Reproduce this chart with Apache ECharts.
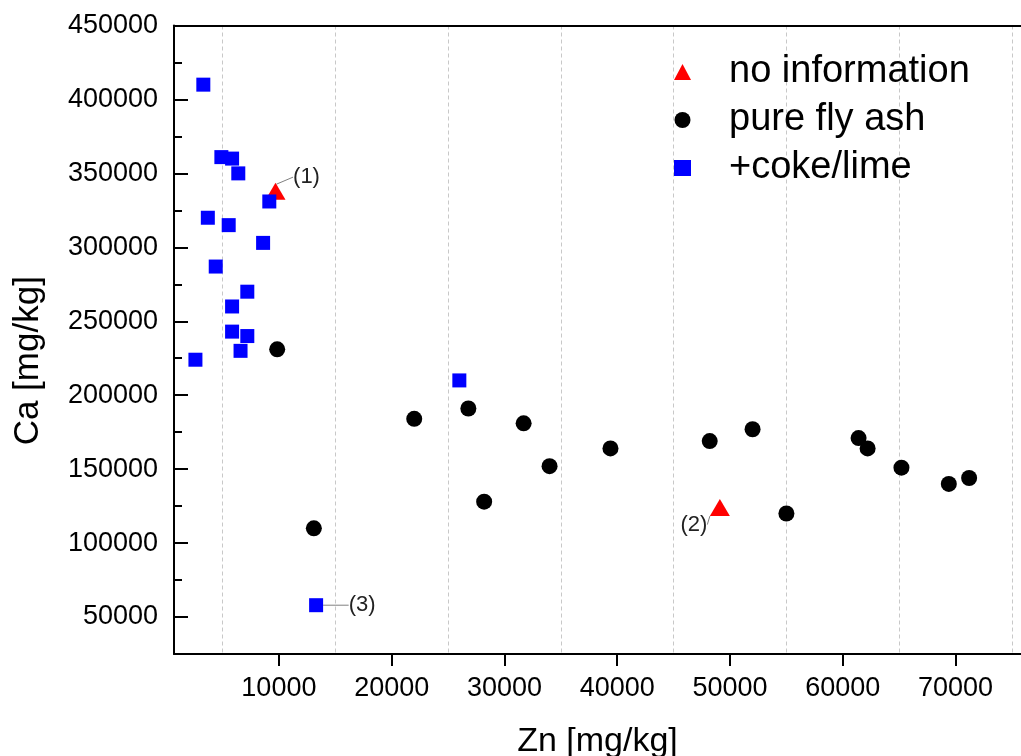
<!DOCTYPE html>
<html>
<head>
<meta charset="utf-8">
<script src="https://cdn.jsdelivr.net/npm/echarts@6/dist/echarts.min.js"></script>
<style>
html,body{margin:0;padding:0;background:#fff;}
#chart{width:1021px;height:756px;}
</style>
</head>
<body>
<div id="chart"></div>
<script>
// ---- data ----
const noInfoZn = [9700, 49100];
const noInfoCa = [338000, 124000];
const noInfoNote = ['(1)', '(2)'];

const flyAshZn = [9850, 13100, 22000, 26800, 31700, 34000, 28200, 39400, 48200, 52000, 55000, 61400, 62200, 65200, 69400, 71200];
const flyAshCa = [231000, 110000, 184000, 191000, 181000, 152000, 128000, 164000, 169000, 177000, 120000, 171000, 164000, 151000, 140000, 144000];
const flyAshNote = [];

const cokeZn = [3300, 4900, 5850, 6400, 9150, 3700, 5550, 8600, 4400, 7200, 5850, 5850, 7200, 6600, 2600, 26000, 13300];
const cokeCa = [410000, 361000, 360000, 350000, 331000, 320000, 315000, 303000, 287000, 270000, 260000, 243000, 240000, 230000, 224000, 210000, 58000];
const cokeNote = ['', '', '', '', '', '', '', '', '', '', '', '', '', '', '', '', '(3)'];

const xTicks = [10000, 20000, 30000, 40000, 50000, 60000, 70000];
const xGrid = [5000, 15000, 25000, 35000, 45000, 55000, 65000, 75000];
const yTicks = [50000, 100000, 150000, 200000, 250000, 300000, 350000, 400000, 450000];
const yMinor = [75000, 125000, 175000, 225000, 275000, 325000, 375000, 425000];

const seriesNames = ['no information', 'pure fly ash', '+coke/lime'];
const xName = 'Zn [mg/kg]';
const yName = 'Ca [mg/kg]';

// ---- presentation ----
const FONT = "'Liberation Sans', Arial, sans-serif";
const noteOffsets = { '(1)': [31, -14], '(2)': [-26, 17], '(3)': [46, 0] };

function build(xs, ys, notes) {
  return xs.map((x, i) => {
    const item = { value: [x, ys[i]] };
    if (notes[i]) {
      item.label = { show: true, formatter: notes[i] };
      item.labelLine = { show: true };
    }
    return item;
  });
}

const labelCfg = {
  show: false, position: 'inside',
  fontFamily: FONT, fontSize: 22, color: '#222'
};
const labelLineCfg = { show: false, lineStyle: { color: '#808080', width: 1 } };
const layoutFn = function (params) {
  const off = noteOffsets[params.text];
  if (!off) return {};
  return { dx: off[0], dy: off[1] };
};
const plain = v => String(v);

const chart = echarts.init(document.getElementById('chart'), null, { renderer: 'canvas' });

chart.setOption({
  animation: false,
  backgroundColor: '#ffffff',
  textStyle: { fontFamily: FONT },
  grid: { left: 174, right: 0, top: 25.5, bottom: 102, containLabel: false, outerBoundsMode: 'none' },
  legend: {
    orient: 'vertical',
    left: 669, top: 47,
    itemWidth: 17, itemHeight: 16,
    itemGap: 8,
    data: seriesNames,
    textStyle: { fontFamily: FONT, fontSize: 38, color: '#000', lineHeight: 40, padding: [0, 0, 0, 33] }
  },
  xAxis: [
    {
      type: 'value', position: 'bottom', min: 700, max: 75800,
      name: xName, nameLocation: 'middle', nameGap: 71,
      nameTextStyle: { fontFamily: FONT, fontSize: 34, color: '#000' },
      axisLine: { show: true, onZero: false, lineStyle: { color: '#000', width: 2 } },
      axisTick: { show: true, inside: false, length: 12, customValues: xTicks, lineStyle: { color: '#000', width: 2 } },
      axisLabel: { show: true, customValues: xTicks, formatter: plain, margin: 21, fontFamily: FONT, fontSize: 27, color: '#000' },
      splitLine: { show: false }
    },
    {
      type: 'value', position: 'top', min: 700, max: 75800,
      axisLine: { show: true, onZero: false, lineStyle: { color: '#000', width: 2 } },
      axisTick: { show: false, customValues: xGrid },
      axisLabel: { show: false },
      splitLine: { show: true, lineStyle: { color: '#c8c8c8', width: 1, type: [4, 3] } }
    }
  ],
  yAxis: [
    {
      type: 'value', position: 'left', min: 25000, max: 450000,
      name: yName, nameLocation: 'middle', nameGap: 128, nameRotate: 90,
      nameTextStyle: { fontFamily: FONT, fontSize: 35, color: '#000', padding: [0, 42, 0, 0] },
      axisLine: { show: true, onZero: false, lineStyle: { color: '#000', width: 2 } },
      axisTick: { show: true, inside: true, length: 14, customValues: yTicks, lineStyle: { color: '#000', width: 2 } },
      axisLabel: { show: true, customValues: yTicks, formatter: plain, margin: 16, fontFamily: FONT, fontSize: 27, color: '#000' },
      splitLine: { show: false }
    },
    {
      type: 'value', position: 'left', min: 25000, max: 450000,
      axisLine: { show: false },
      axisTick: { show: true, inside: true, length: 8, customValues: yMinor, lineStyle: { color: '#000', width: 2 } },
      axisLabel: { show: false },
      splitLine: { show: false }
    }
  ],
  series: [
    {
      name: seriesNames[2], type: 'scatter', xAxisIndex: 0, yAxisIndex: 0,
      symbol: 'rect', symbolSize: 14,
      itemStyle: { color: '#0000ff', opacity: 1 },
      label: labelCfg, labelLine: labelLineCfg, labelLayout: layoutFn,
      data: build(cokeZn, cokeCa, cokeNote), z: 3
    },
    {
      name: seriesNames[1], type: 'scatter', xAxisIndex: 0, yAxisIndex: 0,
      symbol: 'circle', symbolSize: 16,
      itemStyle: { color: '#000000', opacity: 1 },
      label: labelCfg, labelLine: labelLineCfg, labelLayout: layoutFn,
      data: build(flyAshZn, flyAshCa, flyAshNote), z: 3
    },
    {
      name: seriesNames[0], type: 'scatter', xAxisIndex: 0, yAxisIndex: 0,
      symbol: 'triangle', symbolSize: [20, 17],
      itemStyle: { color: '#ff0000', opacity: 1 },
      label: labelCfg, labelLine: labelLineCfg, labelLayout: layoutFn,
      data: build(noInfoZn, noInfoCa, noInfoNote), z: 2
    }
  ]
});
</script>
</body>
</html>
